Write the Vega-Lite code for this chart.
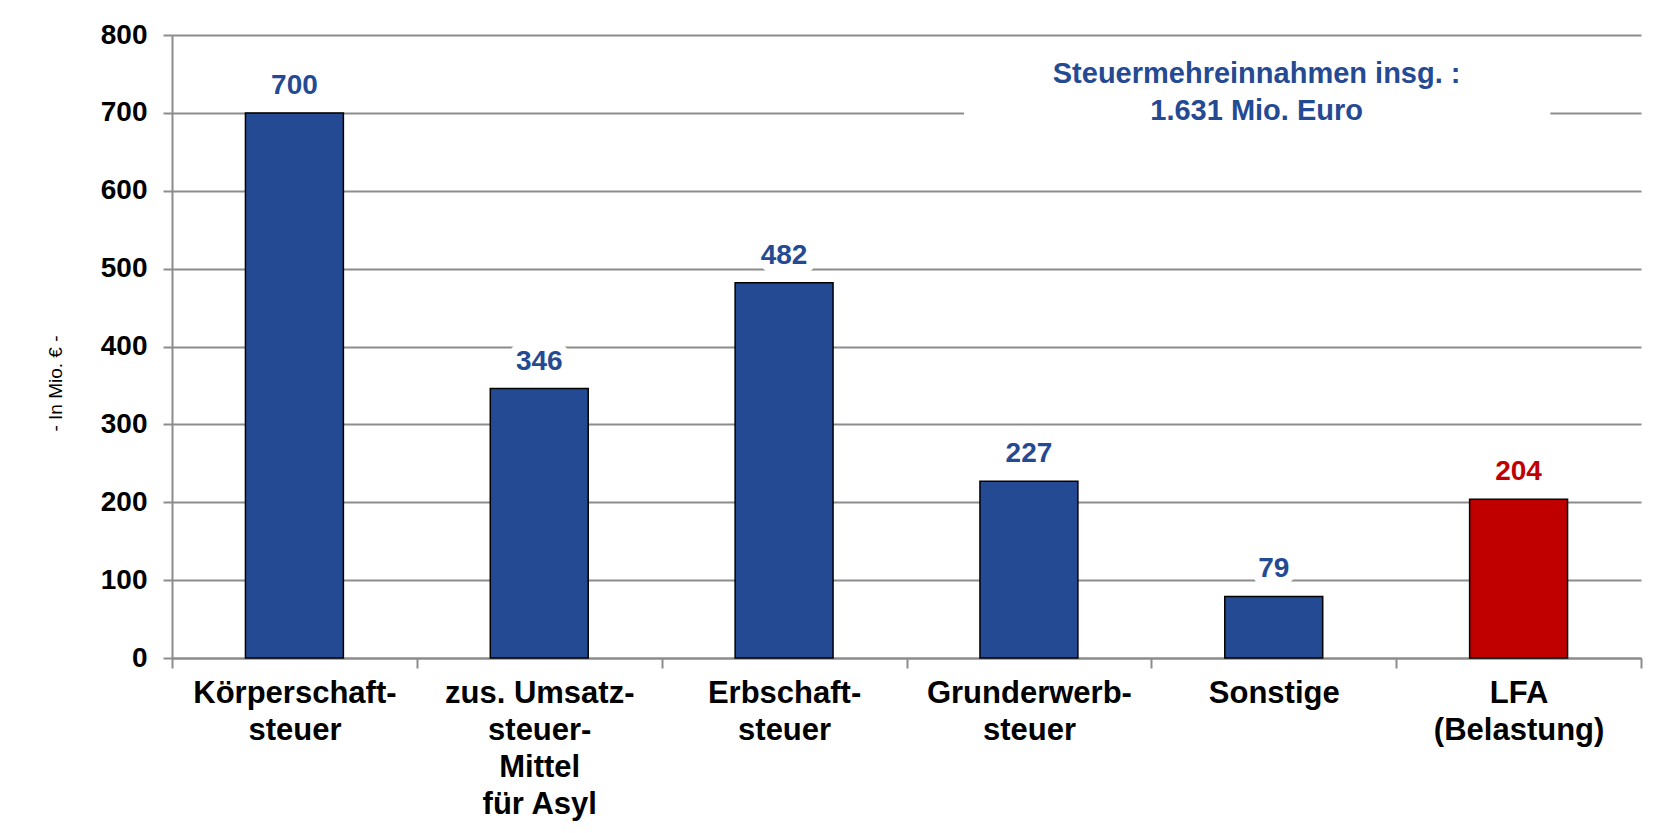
{
  "$schema": "https://vega.github.io/schema/vega-lite/v6.json",
  "width": 1469,
  "height": 623,
  "autosize": {"type": "none"},
  "padding": {"left": 172, "top": 35, "right": 34, "bottom": 175},
  "background": "white",
  "config": {"view": {"stroke": null}, "font": "Liberation Sans"},
  "data": {"values": [
    {"kategorie": "Körperschaft-|steuer", "wert": 700, "art": "Mehreinnahme"},
    {"kategorie": "zus. Umsatz-|steuer-|Mittel|für Asyl", "wert": 346, "art": "Mehreinnahme"},
    {"kategorie": "Erbschaft-|steuer", "wert": 482, "art": "Mehreinnahme"},
    {"kategorie": "Grunderwerb-|steuer", "wert": 227, "art": "Mehreinnahme"},
    {"kategorie": "Sonstige", "wert": 79, "art": "Mehreinnahme"},
    {"kategorie": "LFA|(Belastung)", "wert": 204, "art": "Belastung"}
  ]},
  "encoding": {
    "x": {
      "field": "kategorie", "type": "nominal", "sort": null,
      "scale": {"paddingInner": 0, "paddingOuter": 0},
      "axis": {
        "title": null, "labelAngle": 0,
        "labelExpr": "split(datum.label, '|')",
        "labelFont": "Liberation Sans", "labelFontSize": 31, "labelFontWeight": "bold",
        "labelColor": "black", "labelLineHeight": 37, "labelPadding": 10, "labelLimit": 400,
        "labelBaseline": "top",
        "tickBand": "extent", "tickSize": 10, "tickColor": "#8c8c8c", "tickWidth": 2,
        "domainColor": "#8c8c8c", "domainWidth": 2, "grid": false
      }
    },
    "y": {
      "field": "wert", "type": "quantitative",
      "scale": {"domain": [0, 800], "nice": false},
      "axis": {
        "values": [0, 100, 200, 300, 400, 500, 600, 700, 800],
        "grid": true, "gridColor": "#8c8c8c", "gridWidth": 2,
        "domainColor": "#8c8c8c", "domainWidth": 2,
        "tickColor": "#8c8c8c", "tickWidth": 2, "tickSize": 9,
        "labelFont": "Liberation Sans", "labelFontSize": 28, "labelFontWeight": "bold",
        "labelColor": "black", "labelPadding": 16,
        "title": "- In Mio. € -", "titleFont": "Liberation Sans", "titleFontSize": 19,
        "titleFontWeight": "normal", "titleColor": "black", "titlePadding": 35, "titleY": 348
      }
    }
  },
  "layer": [
    {
      "mark": {"type": "bar", "width": {"band": 0.4}, "stroke": "black", "strokeWidth": 1.5},
      "encoding": {
        "color": {"field": "art", "type": "nominal",
          "scale": {"domain": ["Mehreinnahme", "Belastung"], "range": ["#254A94", "#C00000"]},
          "legend": null}
      }
    },
    {
      "mark": {"type": "text", "dy": -27, "baseline": "middle", "align": "center",
        "fontSize": 28, "fontWeight": "bold", "fill": "white", "stroke": "white",
        "strokeWidth": 16, "strokeJoin": "round"},
      "encoding": {"text": {"field": "wert", "type": "quantitative"}}
    },
    {
      "mark": {"type": "text", "dy": -27, "baseline": "middle", "align": "center",
        "fontSize": 28, "fontWeight": "bold"},
      "encoding": {
        "text": {"field": "wert", "type": "quantitative"},
        "color": {"field": "art", "type": "nominal",
          "scale": {"domain": ["Mehreinnahme", "Belastung"], "range": ["#254A94", "#C00000"]},
          "legend": null}
      }
    },
    {
      "data": {"values": [{"kategorie": "Grunderwerb-|steuer", "bis": "LFA|(Belastung)", "wert": 700}]},
      "mark": {"type": "rule", "color": "white", "strokeWidth": 6},
      "encoding": {
        "x": {"field": "kategorie", "type": "nominal", "sort": null, "bandPosition": 0.235},
        "x2": {"field": "bis", "bandPosition": 0.63},
        "y": {"field": "wert", "type": "quantitative"}
      }
    },
    {
      "data": {"values": [{"kategorie": "Sonstige", "wert": 738, "text": "Steuermehreinnahmen insg. :\n1.631 Mio. Euro"}]},
      "mark": {"type": "text", "lineBreak": "\n", "lineHeight": 37, "fontSize": 29, "fontWeight": "bold",
        "color": "#254A94", "align": "center", "baseline": "alphabetic"},
      "encoding": {
        "x": {"field": "kategorie", "type": "nominal", "sort": null, "bandPosition": 0.43},
        "y": {"field": "wert", "type": "quantitative"},
        "text": {"field": "text", "type": "nominal"}
      }
    }
  ]
}
